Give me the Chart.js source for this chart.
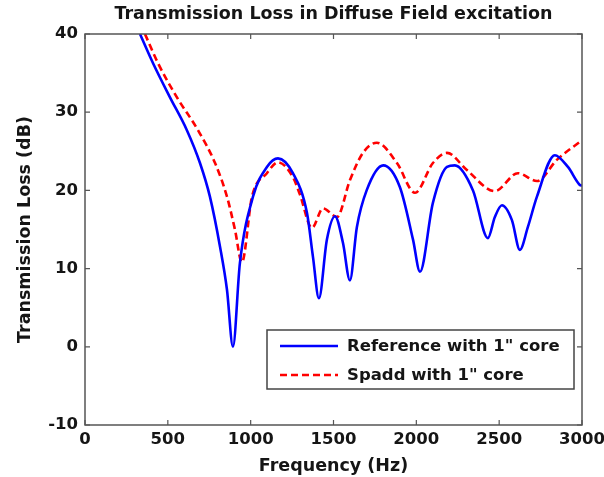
<!DOCTYPE html>
<html>
<head>
<meta charset="utf-8">
<script src="https://cdn.jsdelivr.net/npm/chart.js@4.4.1/dist/chart.umd.min.js"></script>
<style>
html,body{margin:0;padding:0;background:#fff;}
#wrap{width:604px;height:477px;position:relative;}
</style>
</head>
<body>
<div id="wrap"><canvas id="c" width="604" height="477"></canvas></div>
<script>
// ---- data ----
const chartTitle = "Transmission Loss in Diffuse Field excitation";
const xTitle = "Frequency (Hz)";
const yTitle = "Transmission Loss (dB)";
const seriesNames = ["Reference with 1\" core", "Spadd with 1\" core"];
const xTicks = [0, 500, 1000, 1500, 2000, 2500, 3000];
const yTicks = [-10, 0, 10, 20, 30, 40];

const refFreq = [332, 410, 513, 615, 694, 754, 815, 857, 893, 935, 1014, 1098, 1165, 1255, 1340, 1376, 1412, 1460, 1509, 1557, 1599, 1641, 1700, 1800, 1901, 1980, 2022, 2100, 2185, 2233, 2342, 2432, 2474, 2517, 2577, 2625, 2673, 2728, 2836, 2915, 2987, 3000];
const refTL   = [40, 36.3, 31.9, 27.7, 23.5, 19.2, 12.8, 7.3, 0.0, 10.7, 19.2, 23.0, 24.1, 22.2, 17.1, 11.5, 6.2, 13.7, 16.7, 13.3, 8.5, 15.3, 20.0, 23.2, 20.4, 13.7, 9.6, 18.4, 23.0, 23.2, 20.0, 13.9, 16.6, 18.1, 16.2, 12.4, 15.3, 19.2, 24.5, 23.0, 20.7, 20.6];

const spaddFreq = [362, 440, 555, 682, 785, 857, 905, 947, 1008, 1098, 1165, 1255, 1297, 1370, 1436, 1521, 1599, 1678, 1762, 1883, 1992, 2100, 2185, 2305, 2474, 2613, 2728, 2848, 2987, 3000];
const spaddTL   = [40, 36.3, 31.9, 27.7, 23.5, 19.2, 15.0, 10.8, 19.2, 22.2, 23.6, 21.7, 19.5, 15.2, 17.7, 16.6, 21.3, 24.8, 26.1, 23.5, 19.7, 23.5, 24.8, 22.6, 19.9, 22.2, 21.2, 23.9, 26.2, 26.4];

const toPts = (xs, ys) => xs.map((x, i) => ({x: x, y: ys[i]}));

const FONT = "'DejaVu Sans', Verdana, sans-serif";
const TXT = '#151515';
const TICK_FONT = {family: FONT, size: 16.5, weight: 'bold'};
const LABEL_FONT = {family: FONT, size: 17.5, weight: 'bold', lineHeight: 1.2};

// title centred over the plot area
const titlePlugin = {
  id: 'plotTitle',
  afterDraw(chart) {
    const {ctx, chartArea: a} = chart;
    ctx.save();
    ctx.fillStyle = TXT;
    ctx.font = "bold 17.5px " + FONT;
    ctx.textAlign = 'center';
    ctx.textBaseline = 'middle';
    ctx.fillText(chartTitle, (a.left + a.right) / 2, 14);
    ctx.restore();
  }
};

// frame and inward ticks on all four sides (MATLAB style)
const framePlugin = {
  id: 'frame',
  afterDatasetsDraw(chart) {
    const {ctx, chartArea: a, scales} = chart;
    ctx.save();
    ctx.strokeStyle = '#555';
    ctx.lineWidth = 1.5;
    ctx.strokeRect(a.left, a.top, a.right - a.left, a.bottom - a.top);
    ctx.lineWidth = 1.2;
    const L = 5;
    ctx.beginPath();
    xTicks.forEach(v => {
      const px = scales.x.getPixelForValue(v);
      ctx.moveTo(px, a.bottom); ctx.lineTo(px, a.bottom - L);
      ctx.moveTo(px, a.top); ctx.lineTo(px, a.top + L);
    });
    yTicks.forEach(v => {
      const py = scales.y.getPixelForValue(v);
      ctx.moveTo(a.left, py); ctx.lineTo(a.left + L, py);
      ctx.moveTo(a.right, py); ctx.lineTo(a.right - L, py);
    });
    ctx.stroke();
    ctx.restore();
  }
};

// legend box inside plot (lower right)
const legendPlugin = {
  id: 'boxLegend',
  afterDraw(chart) {
    const {ctx} = chart;
    const bx = 267, by = 330, bw = 307, bh = 59;
    ctx.save();
    ctx.fillStyle = '#fff';
    ctx.fillRect(bx, by, bw, bh);
    ctx.strokeStyle = '#444';
    ctx.lineWidth = 1.5;
    ctx.strokeRect(bx, by, bw, bh);
    const rows = [by + 16, by + 45];
    chart.data.datasets.forEach((ds, i) => {
      const y = rows[i];
      ctx.beginPath();
      ctx.strokeStyle = ds.borderColor;
      ctx.lineWidth = ds.borderWidth;
      ctx.setLineDash(ds.borderDash || []);
      ctx.moveTo(280, y); ctx.lineTo(338, y);
      ctx.stroke();
      ctx.setLineDash([]);
      ctx.fillStyle = TXT;
      ctx.font = "bold 16.5px " + FONT;
      ctx.textBaseline = 'middle';
      ctx.textAlign = 'left';
      ctx.fillText(ds.label, 347, y + 1);
    });
    ctx.restore();
  }
};

new Chart(document.getElementById('c'), {
  type: 'scatter',
  data: {
    datasets: [
      {
        label: seriesNames[0],
        data: toPts(refFreq, refTL),
        showLine: true,
        borderColor: '#0000ff',
        backgroundColor: '#0000ff',
        borderWidth: 2.6,
        pointRadius: 0,
        cubicInterpolationMode: 'monotone',
        tension: 0.4
      },
      {
        label: seriesNames[1],
        data: toPts(spaddFreq, spaddTL),
        showLine: true,
        borderColor: '#ff0000',
        backgroundColor: '#ff0000',
        borderWidth: 2.6,
        borderDash: [7, 4],
        pointRadius: 0,
        cubicInterpolationMode: 'monotone',
        tension: 0.4
      }
    ]
  },
  options: {
    responsive: false,
    animation: false,
    devicePixelRatio: 1,
    layout: {padding: {left: 0, right: 22, top: 34, bottom: 0}},
    plugins: {
      legend: {display: false},
      tooltip: {enabled: false},
      title: {display: false}
    },
    scales: {
      x: {
        type: 'linear',
        min: 0, max: 3000,
        afterBuildTicks(s) { s.ticks = xTicks.map(v => ({value: v})); },
        afterFit(s) { s.height = 52; s.paddingLeft = 0; s.paddingRight = 0; },
        grid: {display: false, drawTicks: false},
        border: {display: false},
        ticks: {color: TXT, font: TICK_FONT, padding: 5, maxRotation: 0, autoSkip: false, callback: v => String(v)},
        title: {display: true, text: xTitle, color: TXT, font: LABEL_FONT, padding: {top: 0, bottom: 0.5}}
      },
      y: {
        type: 'linear',
        min: -10, max: 40,
        afterBuildTicks(s) { s.ticks = yTicks.map(v => ({value: v})); },
        afterFit(s) { s.width = 85; s.paddingTop = 0; s.paddingBottom = 0; },
        grid: {display: false, drawTicks: false},
        border: {display: false},
        ticks: {color: TXT, font: TICK_FONT, padding: 7, autoSkip: false, callback: v => String(v)},
        title: {display: true, text: yTitle, color: TXT, font: LABEL_FONT, padding: {top: 14.5, bottom: 0}}
      }
    }
  },
  plugins: [framePlugin, legendPlugin, titlePlugin]
});
</script>
</body>
</html>
